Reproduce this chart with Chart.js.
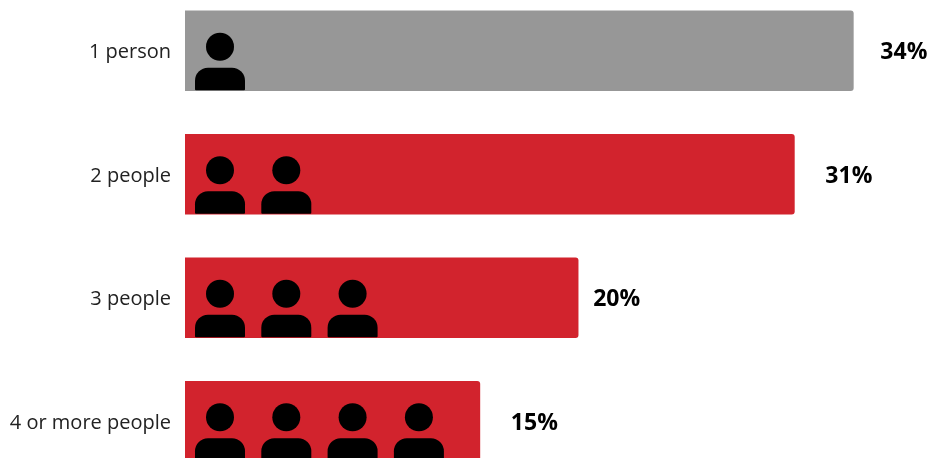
<!DOCTYPE html>
<html>
<head>
<meta charset="utf-8">
<style>
  html, body { margin: 0; padding: 0; width: 930px; height: 458px; overflow: hidden; background: #fff; }
  #wrap { position: absolute; left: 0; top: -11px; width: 930px; height: 494px; }
</style>
<script src="https://cdn.jsdelivr.net/npm/chart.js@4"></script>
</head>
<body>
<div id="wrap"><canvas id="chart" width="930" height="494"></canvas></div>
<script>
const householdSizes = ["1 person", "2 people", "3 people", "4 or more people"];
const sharePercent = [34, 31, 20, 15];
const peopleInIcon = [1, 2, 3, 4];

const GREY = "#979797";
const RED = "#d2232d";
const FONT = '"Open Sans", sans-serif';

// Nudges, per row, between the end of a bar and its percentage.
const labelGaps = [27, 31, 15, 31];

// Row of person glyphs inside each bar, measured from the bar's left and top edges.
const personIcons = {
  id: "personIcons",
  afterDatasetsDraw(chart) {
    const { ctx } = chart;
    chart.getDatasetMeta(0).data.forEach((bar, row) => {
      const left = bar.base;
      const top = bar.y - bar.height / 2;
      ctx.save();
      ctx.fillStyle = "#000";
      for (let i = 0; i < peopleInIcon[row]; i++) {
        const cx = left + 35 + i * 66.3;
        ctx.beginPath();
        ctx.arc(cx, top + 36, 14, 0, Math.PI * 2);
        ctx.fill();
        ctx.beginPath();
        ctx.roundRect(cx - 25, top + 57, 50, 22.5, [13, 13, 1, 1]);
        ctx.fill();
      }
      ctx.restore();
    });
  }
};

// Bold percentage to the right of each bar.
const valueLabels = {
  id: "valueLabels",
  afterDatasetsDraw(chart) {
    const { ctx } = chart;
    chart.getDatasetMeta(0).data.forEach((bar, row) => {
      ctx.save();
      ctx.font = "700 23px " + FONT;
      ctx.fillStyle = "#000";
      ctx.textAlign = "left";
      ctx.textBaseline = "middle";
      ctx.fillText(sharePercent[row] + "%", bar.x + labelGaps[row], bar.y + 2);
      ctx.restore();
    });
  }
};

new Chart(document.getElementById("chart"), {
  type: "bar",
  data: {
    labels: householdSizes,
    datasets: [{
      data: sharePercent,
      backgroundColor: [GREY, RED, RED, RED],
      barThickness: 80,
      borderRadius: { topLeft: 0, bottomLeft: 0, topRight: 3, bottomRight: 3 },
      borderSkipped: false
    }]
  },
  options: {
    indexAxis: "y",
    responsive: false,
    animation: false,
    layout: { padding: 0 },
    plugins: { legend: { display: false }, tooltip: { enabled: false } },
    scales: {
      x: { display: false, min: 0, max: 37.9 },
      y: {
        grid: { display: false, drawTicks: false },
        border: { display: false },
        ticks: { color: "#222", padding: 14, labelOffset: 2, font: { family: FONT, size: 20 } },
        afterFit(scale) {
          scale.width = 185;
          scale.paddingTop = 0;
          scale.paddingBottom = 0;
        }
      }
    }
  },
  plugins: [personIcons, valueLabels]
});
</script>
</body>
</html>
